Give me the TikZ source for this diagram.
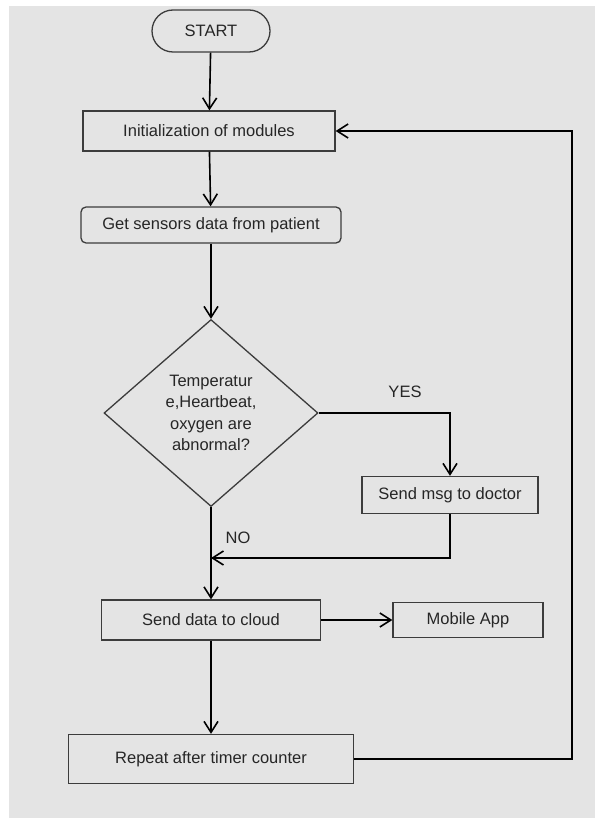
\documentclass[tikz,border=0pt]{standalone}
\usepackage{fontspec}
\setmainfont{Liberation Sans}
\usetikzlibrary{shapes.geometric,arrows.meta}
\definecolor{bgcol}{HTML}{E4E4E4}
\definecolor{inkcol}{HTML}{262626}
\definecolor{edgecol}{HTML}{3C3C3C}
\tikzset{
  box/.style = {draw = edgecol, line width = 1.3pt, text = inkcol, inner sep = 0pt,
                font = \fontsize{16.5}{21}\selectfont},
  procbox/.style = {box, rectangle},
  roundbox/.style = {box, rectangle, rounded corners = 5pt},
  termbox/.style = {box, rectangle, rounded corners = 21pt},
  decbox/.style = {box, diamond, align = center, font = \fontsize{16.5}{21.5}\selectfont},
  flow/.style = {draw = black, line width = 1.6pt, -{Straight Barb[length = 11pt, width = 14pt, line width = 1.6pt]}},
  tag/.style = {text = inkcol, font = \fontsize{16.5}{20}\selectfont}
}
\begin{document}
\begin{tikzpicture}[x = 1pt, y = -1pt]
\useasboundingbox (0,0) rectangle (595,818);
\fill [bgcol] (9,6) rectangle (595,818);
\node[termbox, minimum width = 118pt, minimum height = 42pt] (start) at (211,31) {START};
\node[procbox, minimum width = 252pt, minimum height = 40pt] (init) at (209,131) {Initialization of modules};
\node[roundbox, minimum width = 260pt, minimum height = 36pt] (sensors) at (211,225) {Get sensors data from patient};
\node[decbox, minimum width = 214pt, minimum height = 187pt] (check) at (211,413) {Temperatur\\e,Heartbeat,\\oxygen are\\abnormal?};
\node[procbox, minimum width = 176pt, minimum height = 37pt] (doctor) at (450,495) {Send msg to doctor};
\node[procbox, minimum width = 219pt, minimum height = 40pt] (cloud) at (211,620) {Send data to cloud};
\node[procbox, minimum width = 150pt, minimum height = 35pt] (app) at (468,620) {Mobile App};
\node[procbox, minimum width = 285pt, minimum height = 49pt] (repeat) at (211,759) {Repeat after timer counter};
\node[tag] (yes) at (405,392) {YES};
\node[tag] (no) at (238,538) {NO};
\coordinate (merge) at (211,558);
\coordinate (back) at (572,759);
\draw[flow] (start) -- (init);
\draw[flow] (init) -- (sensors);
\draw[flow] (sensors) -- (check);
\draw[flow] (check.east) -| (doctor.north);
\draw[flow] (doctor.south) |- (merge);
\draw[flow] (check.south) -- (cloud.north);
\draw[flow] (cloud) -- (app);
\draw[flow] (cloud) -- (repeat);
\draw[flow] (repeat.east) -- (back) |- (init.east);
\end{tikzpicture}
\end{document}
